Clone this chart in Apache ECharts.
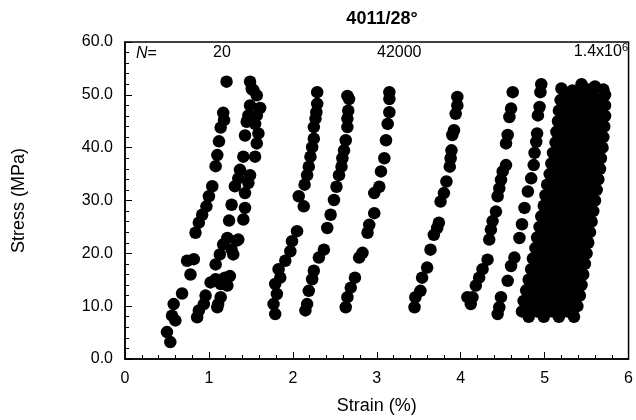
<!DOCTYPE html>
<html><head><meta charset="utf-8">
<script src="https://cdn.jsdelivr.net/npm/echarts/dist/echarts.min.js"></script>
<style>html,body{margin:0;padding:0;background:#fff}#c{width:636px;height:420px}</style>
</head><body><div id="c"></div><script>
// ---- tick labels / axis settings ----
const xTicks = [0, 1, 2, 3, 4, 5, 6];
const yTicks = [0, 10, 20, 30, 40, 50, 60];
const titleText = '4011/28°';
const xName = 'Strain (%)';
const yName = 'Stress (MPa)';
const cycleLabels = ['20', '42000', '1.4x10', '6'];

// ---- data: [strain %, stress MPa] ----
const cycleA = [[0.50,5.1],[0.54,3.2],[0.56,8.2],[0.60,7.3],[0.58,10.4],[0.68,12.4],[0.74,18.6],[0.82,18.9],[0.78,16.0],
  [0.84,23.9],[0.88,25.8],[0.92,27.3],[0.97,28.9],[1.00,30.8],[1.04,32.7],[1.08,36.5],[1.10,38.6],[1.12,41.2],
  [1.14,43.8],[1.18,45.2],[1.17,46.6],[1.21,52.5]];
const cycleB1 = [[0.86,7.9],[0.88,9.2],[0.94,10.4],[0.96,12.0],[1.02,14.5],[1.08,17.9],[1.13,19.8],[1.17,21.7],[1.22,22.9],
  [1.24,26.2],[1.27,29.2],[1.31,32.7],[1.35,34.2],[1.37,35.8],[1.41,38.3],[1.43,42.3],[1.45,44.9],[1.47,46.1],
  [1.49,48.0],[1.51,51.1],[1.49,52.5]];
const cycleB2 = [[1.10,9.8],[1.11,10.4],[1.14,11.7],[1.22,13.9],[1.25,15.7],[1.29,19.8],[1.33,22.4],[1.35,22.6],[1.41,26.4],
  [1.43,28.6],[1.43,31.4],[1.47,33.3],[1.49,34.8],[1.55,38.3],[1.57,40.8],[1.59,42.7],[1.55,44.5],[1.57,46.1],
  [1.61,47.5],[1.57,49.9],[1.53,50.9],[1.08,15.1],[1.19,15.4],[1.14,14.2],[1.27,20.7]];
const cycleC = [[1.79,8.5],[1.77,10.4],[1.81,12.3],[1.79,14.2],[1.85,15.4],[1.83,17.0],[1.91,18.6],[1.97,20.4],[1.99,22.3],
  [2.05,24.2],[2.13,28.9],[2.07,30.8],[2.14,33.0],[2.17,34.8],[2.19,36.4],[2.21,38.3],[2.23,40.1],[2.25,41.7],
  [2.25,43.9],[2.27,45.5],[2.28,46.7],[2.29,48.3],[2.29,50.5]];
const cycleD = [[2.15,9.2],[2.17,10.4],[2.19,12.9],[2.23,15.1],[2.25,16.7],[2.31,19.2],[2.37,20.7],[2.41,24.8],[2.45,27.3],
  [2.49,30.1],[2.52,32.6],[2.55,34.8],[2.58,36.4],[2.59,38.0],[2.61,39.5],[2.63,41.4],[2.65,43.9],[2.65,45.5],
  [2.66,47.0],[2.67,49.2],[2.65,49.8]];
const cycleE = [[2.63,9.8],[2.65,11.7],[2.69,13.5],[2.74,15.4],[2.79,19.2],[2.83,20.1],[2.89,23.9],[2.91,25.4],[2.97,27.6],
  [2.97,31.4],[3.03,32.6],[3.05,35.5],[3.09,38.0],[3.11,41.4],[3.13,44.5],[3.15,46.7],[3.15,49.2],[3.15,50.5]];
const cycleF = [[3.45,9.8],[3.46,11.7],[3.52,12.9],[3.54,15.4],[3.60,17.3],[3.64,20.7],[3.68,23.5],[3.72,24.8],[3.74,25.8],
  [3.76,29.8],[3.80,31.4],[3.83,33.6],[3.87,36.4],[3.88,38.0],[3.89,39.5],[3.90,42.4],[3.92,43.3],[3.94,46.4],
  [3.96,48.0],[3.96,49.6]];
const cycleG = [[4.08,11.7],[4.12,10.4],[4.14,11.7],[4.18,13.9],[4.22,15.4],[4.26,17.0],[4.32,18.8],[4.34,22.6],[4.36,24.5],
  [4.38,26.1],[4.42,27.9],[4.44,30.8],[4.46,32.3],[4.48,33.9],[4.50,35.5],[4.54,36.7],[4.54,40.8],[4.56,42.4],
  [4.58,45.8],[4.60,47.4],[4.62,50.5]];
const cycleH = [[4.44,8.5],[4.46,9.8],[4.48,11.7],[4.56,14.8],[4.60,17.6],[4.64,19.2],[4.70,22.9],[4.73,25.5],[4.76,28.6],
  [4.80,31.7],[4.84,34.2],[4.87,36.7],[4.88,39.0],[4.90,41.1],[4.91,42.7],[4.92,46.1],[4.94,47.7],[4.95,50.5],[4.96,52.0]];
// dense block of later cycles (up to 1.4x10^6)
const mass1 = [[4.73,9],[4.75,11],[4.78,13],[4.81,15],[4.84,17],[4.86,19],[4.89,21],[4.91,23],[4.94,25],[4.96,27],[4.99,29],
  [5.01,31],[5.03,33],[5.06,35],[5.08,37],[5.10,39],[5.13,41],[5.14,43],[5.16,45],[5.17,47],[5.19,49]];
const mass2 = [[4.81,8],[4.83,10],[4.86,12],[4.89,14],[4.92,16],[4.94,18],[4.97,20],[4.99,22],[5.02,24],[5.04,26],[5.07,28],
  [5.09,30],[5.11,32],[5.13,34],[5.15,36],[5.17,38],[5.20,40],[5.22,42],[5.23,44],[5.25,46],[5.26,48],[5.27,50]];
const mass3 = [[4.91,9],[4.94,11],[4.96,13],[4.99,15],[5.02,17],[5.04,19],[5.07,21],[5.09,23],[5.11,25],[5.13,27],[5.16,29],
  [5.18,31],[5.20,33],[5.23,35],[5.25,37],[5.26,39],[5.29,41],[5.30,43],[5.32,45],[5.33,47],[5.34,49]];
const mass4 = [[4.99,8],[5.02,10],[5.05,12],[5.07,14],[5.10,16],[5.12,18],[5.15,20],[5.17,22],[5.19,24],[5.21,26],[5.24,28],
  [5.26,30],[5.28,32],[5.30,34],[5.32,36],[5.34,38],[5.36,40],[5.38,42],[5.39,44],[5.41,46],[5.41,48],[5.42,50]];
const mass5 = [[5.09,9],[5.12,11],[5.15,13],[5.17,15],[5.20,17],[5.22,19],[5.25,21],[5.26,23],[5.29,25],[5.31,27],[5.33,29],
  [5.35,31],[5.37,33],[5.40,35],[5.41,37],[5.43,39],[5.45,41],[5.46,43],[5.48,45],[5.48,47],[5.50,49]];
const mass6 = [[5.17,8],[5.21,10],[5.24,12],[5.26,14],[5.28,16],[5.30,18],[5.33,20],[5.35,22],[5.37,24],[5.39,26],[5.41,28],
  [5.43,30],[5.45,32],[5.47,34],[5.49,36],[5.51,38],[5.53,40],[5.54,42],[5.55,44],[5.57,46],[5.57,48],[5.57,50]];
const mass7 = [[5.27,9],[5.31,11],[5.33,13],[5.35,15],[5.38,17],[5.39,19],[5.42,21],[5.44,23],[5.46,25],[5.48,27],[5.51,29],
  [5.53,31],[5.54,33],[5.56,35],[5.58,37],[5.59,39],[5.61,41],[5.62,43],[5.64,45],[5.64,47],[5.65,49]];
const mass8 = [[5.35,8],[5.39,10],[5.42,12],[5.44,14],[5.46,16],[5.48,18],[5.50,20],[5.52,22],[5.54,24],[5.56,26],[5.58,28],
  [5.60,30],[5.62,32],[5.64,34],[5.66,36],[5.67,38],[5.69,40],[5.70,42],[5.71,44],[5.72,46],[5.72,48],[5.72,50]];
const massTop = [[5.20,51.2],[5.33,50.8],[5.44,52.0],[5.52,51.0],[5.60,51.6],[5.70,51.0]];

const groups = [cycleA, cycleB1, cycleB2, cycleC, cycleD, cycleE, cycleF, cycleG, cycleH,
  mass1, mass2, mass3, mass4, mass5, mass6, mass7, mass8, massTop];

const FONT = "'Liberation Sans', Arial, Helvetica, sans-serif";
const chart = echarts.init(document.getElementById('c'), null, {renderer: 'canvas'});
const axisCommon = {
  axisLine: {show: true, lineStyle: {color: '#000', width: 1.5}},
  axisTick: {show: true, inside: true, length: 7, lineStyle: {color: '#000', width: 1}},
  minorTick: {show: true, splitNumber: 5, length: 4, lineStyle: {color: '#000', width: 1}},
  splitLine: {show: false},
  axisLabel: {color: '#000', fontFamily: FONT, fontSize: 16}
};
chart.setOption({
  animation: false,
  backgroundColor: '#fff',
  title: {text: titleText, left: 377, top: 5, textAlign: 'center',
    textStyle: {fontFamily: FONT, fontWeight: 'bold', fontSize: 18, color: '#000'}},
  grid: {left: 125, right: 7, top: 42, bottom: 55, show: true, borderColor: '#000', borderWidth: 1.5, backgroundColor: 'transparent'},
  xAxis: Object.assign({}, axisCommon, {
    type: 'value', min: xTicks[0], max: xTicks[xTicks.length - 1], interval: 1,
    name: xName, nameLocation: 'middle', nameGap: 38,
    nameTextStyle: {fontFamily: FONT, fontSize: 18, color: '#000'},
    axisLabel: Object.assign({}, axisCommon.axisLabel, {margin: 12, formatter: v => String(v)})
  }),
  yAxis: Object.assign({}, axisCommon, {
    type: 'value', min: yTicks[0], max: yTicks[yTicks.length - 1], interval: 10,
    name: yName, nameLocation: 'middle', nameGap: 97,
    nameTextStyle: {fontFamily: FONT, fontSize: 18, color: '#000'},
    axisLabel: Object.assign({}, axisCommon.axisLabel, {margin: 12, formatter: v => v.toFixed(1)})
  }),
  series: groups.map(d => ({
    type: 'scatter', data: d, symbol: 'circle', symbolSize: 12.5, silent: true,
    itemStyle: {color: '#000', opacity: 1}
  })),
  graphic: [
    {type: 'text', left: 136, top: 46, style: {text: '{i|N}=', fontFamily: FONT, fontSize: 16, fill: '#000',
      rich: {i: {fontStyle: 'italic', fontFamily: FONT, fontSize: 16}}}},
    {type: 'text', left: 213, top: 45, style: {text: cycleLabels[0], fontFamily: FONT, fontSize: 16, fill: '#000'}},
    {type: 'text', left: 377, top: 45, style: {text: cycleLabels[1], fontFamily: FONT, fontSize: 16, fill: '#000'}},
    {type: 'text', right: 8, top: 42, style: {text: '{a|' + cycleLabels[2] + '}{s|' + cycleLabels[3] + '}', fill: '#000',
      rich: {a: {fontFamily: FONT, fontSize: 16, lineHeight: 18, verticalAlign: 'bottom'},
             s: {fontFamily: FONT, fontSize: 11, lineHeight: 11, padding: [0, 0, 9, 0], verticalAlign: 'top'}}}}
  ]
});
</script></body></html>
